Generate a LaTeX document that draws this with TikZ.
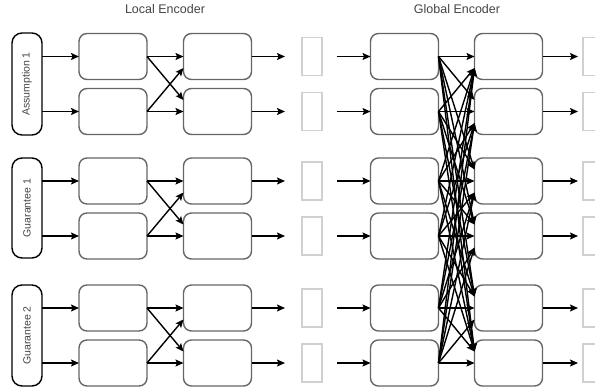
\documentclass[tikz,border=0pt]{standalone}
\usepackage{fontspec}
\setmainfont{Liberation Sans}
\usetikzlibrary{arrows.meta}
\definecolor{boxgray}{HTML}{666666}
\definecolor{ghostgray}{HTML}{D0D0D0}
\definecolor{txtgray}{HTML}{444444}
\tikzset{
  box/.style={draw=boxgray,line width=1.4pt,rounded corners=8pt,minimum width=68pt,minimum height=46pt,inner sep=0pt,outer sep=0pt},
  ghost/.style={draw=ghostgray,line width=1.4pt,minimum width=20pt,minimum height=38pt,inner sep=0pt,outer sep=0pt},
  lbl/.style={draw=black,line width=1.4pt,rounded corners=10pt,minimum width=30pt,inner sep=0pt,outer sep=0pt,text=txtgray,font=\fontsize{10.5}{12}\selectfont},
  ttl/.style={text=txtgray,font=\fontsize{12.5}{14}\selectfont},
  arr/.style={line width=1.4pt,-{Stealth[length=8pt,width=7pt,inset=1.5pt]}}
}
\begin{document}
\begin{tikzpicture}[x=1pt,y=-1pt]
\useasboundingbox (0,0) rectangle (595,389);
\node[ttl] (t1) at (165,9) {Local Encoder};
\node[ttl] (t2) at (457,9) {Global Encoder};
\foreach \y [count=\i] in {56.5,111.5,181,236,308,363} {
  \node[box] (a\i) at (113,\y) {};
  \node[box] (b\i) at (217.5,\y) {};
  \node[ghost] (g\i) at (312,\y) {};
  \node[box] (c\i) at (404.5,\y) {};
  \node[box] (d\i) at (508.5,\y) {};
  \node[ghost] (h\i) at (593,\y) {};
  \coordinate (o\i) at (285,\y);
  \coordinate (s\i) at (337,\y);
  \coordinate (e\i) at (578,\y);
}
\node[lbl,minimum height=102pt] (L1) at (27,84) {\rotatebox{90}{Assumption 1}};
\node[lbl,minimum height=100pt] (L2) at (27,208) {\rotatebox{90}{Guarantee 1}};
\node[lbl,minimum height=101pt] (L3) at (27,335.5) {\rotatebox{90}{Guarantee 2}};
% inputs
\draw[arr] (L1.east |- a1.west) -- (a1.west);
\draw[arr] (L1.east |- a2.west) -- (a2.west);
\draw[arr] (L2.east |- a3.west) -- (a3.west);
\draw[arr] (L2.east |- a4.west) -- (a4.west);
\draw[arr] (L3.east |- a5.west) -- (a5.west);
\draw[arr] (L3.east |- a6.west) -- (a6.west);
% local crosses
\foreach \p/\q in {1/2,3/4,5/6} {
  \draw[arr] (a\p.east) -- (b\p.west);
  \draw[arr] (a\q.east) -- (b\q.west);
  \draw[arr] (a\p.east) -- ([yshift=11.5pt]b\q.west);
  \draw[arr] (a\q.east) -- ([yshift=-11.5pt]b\p.west);
}
\foreach \i in {1,...,6} {
  \draw[arr] (b\i.east) -- (o\i);
  \draw[arr] (s\i) -- (c\i.west);
  \draw[arr] (d\i.east) -- (e\i);
}
% global all-to-all
\foreach \i in {1,...,6} {
  \foreach \j in {1,...,6} {
    \pgfmathsetmacro\sh{(\i==\j)?0:((\j<\i)?-11.5:11.5)}
    \draw[arr] (c\i.east) -- ([yshift=\sh pt]d\j.west);
  }
}
\end{tikzpicture}
\end{document}
